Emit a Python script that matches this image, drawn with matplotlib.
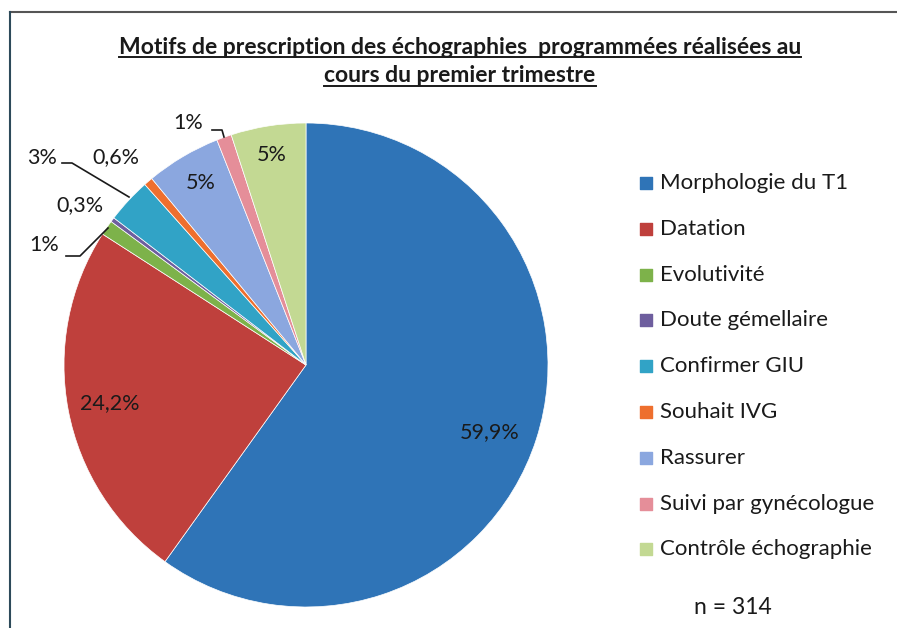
# coding=utf-8
import matplotlib
matplotlib.use('Agg')
import matplotlib.pyplot as plt
from matplotlib.lines import Line2D

plt.rcParams['font.family'] = ['Lato', 'DejaVu Sans']

W, H = 897, 628

# données : motifs de prescription (%)
motifs = ['Morphologie du T1', 'Datation', 'Evolutivité', 'Doute gémellaire',
          'Confirmer GIU', 'Souhait IVG', 'Rassurer', 'Suivi par gynécologue',
          'Contrôle échographie']
pct = [59.9, 24.2, 1, 0.3, 3, 0.6, 5, 1, 5]
etiquettes = ['59,9%', '24,2%', '1%', '0,3%', '3%', '0,6%', '5%', '1%', '5%']
couleurs = ['#2F74B7', '#BF403C', '#7DB24A', '#6E5E9E', '#31A3C6',
            '#EE6F2E', '#8BA7DF', '#E58E99', '#C3D993']

# position des étiquettes (pixels, depuis le haut)
pos_etiq = [(490, 432), (110, 403), (44, 245), (80, 205), (42, 158),
            (116, 157), (201, 183), (188, 123), (272, 155)]

fig = plt.figure(figsize=(W / 100, H / 100), dpi=100)
ax = fig.add_axes([0, 0, 1, 1])

# camembert : départ à midi, sens horaire
ax.pie(pct, colors=couleurs, startangle=90, counterclock=False,
       center=(306, H - 365), radius=242, frame=True,
       wedgeprops={'edgecolor': 'white', 'linewidth': 0.5})
ax.set_xlim(0, W)
ax.set_ylim(0, H)
ax.axis('off')

coul_txt = '#1a1a1a'
for lab, (x, y) in zip(etiquettes, pos_etiq):
    ax.text(x, H - y, lab, fontsize=15.5, color=coul_txt, ha='center', va='center')

# lignes de rappel
ax.plot([66, 80, 108], [H - 256, H - 256, H - 228], color=coul_txt, lw=1.2)
ax.plot([62, 72, 129], [H - 163, H - 163, H - 197], color=coul_txt, lw=1.2)
ax.plot([212, 222, 224], [H - 130, H - 130, H - 137], color=coul_txt, lw=1.2)

# légende
y0, pas = 183, 45.8
for i, (m, c) in enumerate(zip(motifs, couleurs)):
    y = H - (y0 + i * pas)
    ax.scatter([646], [y], marker='s', s=85, color=c)
    ax.text(660, y, m, fontsize=16, color=coul_txt, ha='left', va='center')

ax.text(733, H - 608, 'n = 314', fontsize=16.5, color=coul_txt, ha='center', va='center')

# titre souligné
titres = ['Motifs de prescription des échographies  programmées réalisées au',
          'cours du premier trimestre']
txts = []
for t, y in zip(titres, [47, 76]):
    txts.append(ax.text(460, H - y, t, fontsize=16.5, fontweight='bold',
                        color=coul_txt, ha='center', va='center'))
fig.canvas.draw()
r = fig.canvas.get_renderer()
for t in txts:
    bb = t.get_window_extent(r)
    ax.plot([bb.x0, bb.x1], [bb.y0 + 1, bb.y0 + 1], color=coul_txt, lw=1.4)

# cadre (haut et gauche)
fig.add_artist(Line2D([10 / W, 1], [1 - 12 / H, 1 - 12 / H], color='#555555', lw=1.5))
fig.add_artist(Line2D([10 / W, 10 / W], [0, 1 - 12 / H], color='#2d4a5a', lw=1.5))

fig.savefig('out.png', dpi=100)
